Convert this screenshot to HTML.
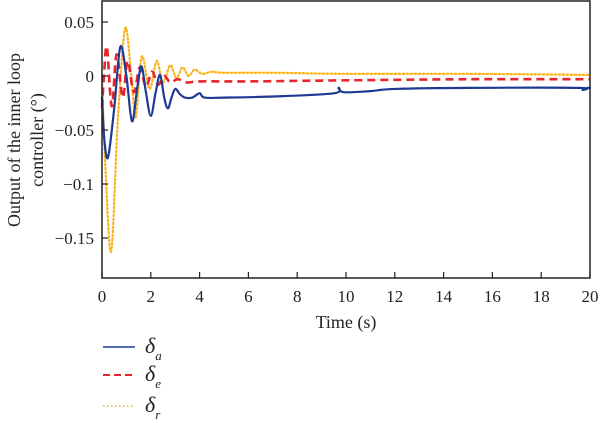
<!DOCTYPE html>
<html><head><meta charset="utf-8"><style>
html,body{margin:0;padding:0;background:#fff;width:600px;height:423px;overflow:hidden}
svg{display:block;font-family:"Liberation Serif",serif}
</style></head><body>
<svg id="chart" width="600" height="423">
<g id="plot"></g>
<g id="axes"></g>
<g id="legend"></g>
</svg>
<script>
const xTicks=[0,2,4,6,8,10,12,14,16,18,20];
const yTicks=[0.05,0,-0.05,-0.1,-0.15];
const yTickLabels=["0.05","0","\u22120.05","\u22120.1","\u22120.15"];
const tA=[0,0.1,0.25,0.5,0.75,1.0,1.23,1.45,1.62,1.8,2.0,2.2,2.38,2.55,2.7,2.85,3.0,3.2,3.4,3.7,4.0,4.2,5,7,9.5,9.7,9.9,11,12,15,19.5,19.7,19.9,20];
const dA=[-0.02,-0.06,-0.075,-0.03,0.027,0.0,-0.042,-0.01,0.009,-0.015,-0.037,-0.015,0.001,-0.02,-0.03,-0.02,-0.012,-0.017,-0.02,-0.02,-0.016,-0.02,-0.02,-0.019,-0.016,-0.011,-0.015,-0.014,-0.012,-0.011,-0.011,-0.013,-0.011,-0.011];
const tE=[0,0.08,0.2,0.4,0.6,0.85,1.05,1.3,1.55,1.8,2.05,2.3,2.55,2.8,3.1,3.5,4,6,10,15,20];
const dE=[-0.03,0.0,0.027,-0.028,0.02,-0.02,0.014,-0.015,0.008,-0.01,0.004,-0.008,0.0,-0.006,-0.003,-0.006,-0.005,-0.005,-0.004,-0.003,-0.003];
const tR=[0,0.15,0.38,0.65,0.95,1.2,1.38,1.63,1.95,2.24,2.5,2.8,3.05,3.3,3.55,3.8,4.1,4.5,5,7,10,15,20];
const dR=[0,-0.09,-0.162,-0.04,0.044,0.0,-0.038,0.018,-0.012,0.014,-0.006,0.01,-0.002,0.008,0.0,0.006,0.002,0.004,0.003,0.003,0.002,0.002,0.001];
const NS="http://www.w3.org/2000/svg";
const L=102,R=590,T=0,B=278;
const x=t=>L+(t/20)*(R-L);
const y=v=>76-(v/0.05)*54;
function el(tag,attrs,parent){const e=document.createElementNS(NS,tag);for(const k in attrs)e.setAttribute(k,attrs[k]);parent.appendChild(e);return e;}
function pathFor(ts,vs){
  const p=ts.map((t,i)=>[x(t),y(vs[i])]);
  let d="M"+p[0][0].toFixed(2)+","+p[0][1].toFixed(2);
  for(let i=0;i<p.length-1;i++){
    const p0=p[i-1]||p[i],p1=p[i],p2=p[i+1],p3=p[i+2]||p2;
    const c1=[p1[0]+(p2[0]-p0[0])/6,p1[1]+(p2[1]-p0[1])/6];
    const c2=[p2[0]-(p3[0]-p1[0])/6,p2[1]-(p3[1]-p1[1])/6];
    d+=" C"+c1[0].toFixed(2)+","+c1[1].toFixed(2)+" "+c2[0].toFixed(2)+","+c2[1].toFixed(2)+" "+p2[0].toFixed(2)+","+p2[1].toFixed(2);
  }
  return d;
}
const plot=document.getElementById('plot');
const axes=document.getElementById('axes');
const legend=document.getElementById('legend');
const series=[
 {t:tR,d:dR,c:"#f7b21e",w:2.2,dash:"1.5 2.5",n:"series-delta-r",cap:"round"},
 {t:tE,d:dE,c:"#e8262b",w:2.6,dash:"8 5",n:"series-delta-e",cap:"butt"},
 {t:tA,d:dA,c:"#1f3a93",w:2.2,dash:"",n:"series-delta-a",cap:"round"}
];
series.forEach(s=>{
  const p=el('path',{d:pathFor(s.t,s.d),fill:"none",stroke:s.c,"stroke-width":s.w,"stroke-dasharray":s.dash,"stroke-linecap":s.cap,"stroke-linejoin":"round"},plot);
  
  
});
const frame=el('rect',{x:L,y:T+1,width:R-L,height:B-T-1,fill:"none",stroke:"#222","stroke-width":1.5},axes);


xTicks.forEach(t=>{
  const ln=el('line',{x1:x(t),x2:x(t),y1:B,y2:B-6,stroke:"#222","stroke-width":1.2},axes);
  
  
  const tx=el('text',{x:x(t),y:B+24,"text-anchor":"middle","font-size":17,fill:"#222"},axes);
  tx.textContent=t;
  
  
});
yTicks.forEach((v,i)=>{
  const ln=el('line',{x1:L,x2:L+6,y1:y(v),y2:y(v),stroke:"#222","stroke-width":1.2},axes);
  
  
  const tx=el('text',{x:L-8,y:y(v)+6,"text-anchor":"end","font-size":17,fill:"#222"},axes);
  tx.textContent=yTickLabels[i];
  
  
});
const xt=el('text',{x:346,y:328,"text-anchor":"middle","font-size":18,fill:"#222"},axes);
xt.textContent="Time (s)";


const yt=el('text',{transform:"translate(20,140) rotate(-90)","text-anchor":"middle","font-size":18,fill:"#222"},axes);


const ts1=el('tspan',{x:0,dy:0},yt);ts1.textContent="Output of the inner loop";
const ts2=el('tspan',{x:0,dy:23},yt);ts2.textContent="controller (\u00b0)";
const legItems=[
 {c:"#1f3a93",dash:"",w:1.5,sub:"a",y:347,n:"legend-entry-delta-a"},
 {c:"#e8262b",dash:"7 4",w:2,sub:"e",y:375,n:"legend-entry-delta-e"},
 {c:"#f7b21e",dash:"1.5 2.5",w:1.5,sub:"r",y:406,n:"legend-entry-delta-r"}
];
legItems.forEach(it=>{
  const g=el('g',{},legend);
  
  
  el('line',{x1:103,x2:135,y1:it.y,y2:it.y,stroke:it.c,"stroke-width":it.w,"stroke-dasharray":it.dash},g);
  const tx=el('text',{x:145,y:it.y+6,"font-size":22,"font-style":"italic",fill:"#222"},g);
  tx.textContent="\u03b4";
  const sb=el('tspan',{dy:7,"font-size":13},tx);sb.textContent=it.sub;
});
</script>
</body></html>
